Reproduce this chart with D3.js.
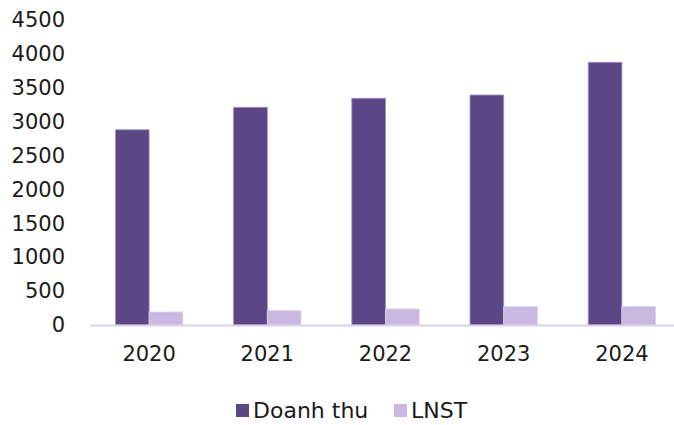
<!DOCTYPE html>
<html>
<head>
<meta charset="utf-8">
<script src="https://cdn.jsdelivr.net/npm/d3@7"></script>
<style>
  body { margin: 0; background: #fff; }
  svg { display: block; font-family: "DejaVu Sans", sans-serif; }
</style>
</head>
<body>
<svg id="chart" width="674" height="425"></svg>
<script>
// --- data ---
const years = ["2020", "2021", "2022", "2023", "2024"];
const doanhThu = [2880, 3212, 3345, 3393, 3876];
const lnst = [192, 211, 236, 270, 272];
const seriesNames = ["Doanh thu", "LNST"];
const yTicks = [0, 500, 1000, 1500, 2000, 2500, 3000, 3500, 4000, 4500];

const colors = { "Doanh thu": "#5c4786", "LNST": "#c9b8df" };

const svg = d3.select("#chart");

// plot area
const x0 = d3.scaleBand().domain(years).range([90, 681]).paddingInner(0.43).paddingOuter(0.215);
const x1 = d3.scaleBand().domain(seriesNames).range([0, x0.bandwidth()]);
const y = d3.scaleLinear().domain([0, 4500]).range([325, 20]);

const rows = years.map((yr, i) => ({ year: yr, vals: [
  { key: "Doanh thu", value: doanhThu[i] },
  { key: "LNST", value: lnst[i] }
]}));

// y tick labels (no axis line)
svg.append("g")
  .attr("transform", "translate(65,0)")
  .call(d3.axisLeft(y).tickValues(yTicks).tickFormat(d3.format("d")).tickSize(0).tickPadding(0))
  .call(g => g.select(".domain").remove())
  .selectAll("text")
    .attr("font-size", 21)
    .attr("fill", "#1a1a1a")
    .style("font-family", "DejaVu Sans, sans-serif");

// bars
const groups = svg.append("g").selectAll("g")
  .data(rows).join("g")
  .attr("transform", d => `translate(${x0(d.year)},0)`);

groups.selectAll("rect")
  .data(d => d.vals).join("rect")
  .attr("x", d => x1(d.key))
  .attr("y", d => y(d.value))
  .attr("width", x1.bandwidth())
  .attr("height", d => y(0) - y(d.value))
  .attr("fill", d => colors[d.key])
  .attr("stroke", d => d.key === "Doanh thu" ? "#9f8fc4" : "#ddd2ee")
  .attr("stroke-width", 0.8);

// baseline
svg.append("line")
  .attr("x1", 90).attr("x2", 674)
  .attr("y1", y(0) + 0.5).attr("y2", y(0) + 0.5)
  .attr("stroke", "#d9d0ea")
  .attr("stroke-width", 2);

// x labels
svg.append("g")
  .attr("transform", `translate(0,${y(0)})`)
  .call(d3.axisBottom(x0).tickSize(0).tickPadding(21))
  .call(g => g.select(".domain").remove())
  .selectAll("text")
    .attr("font-size", 21)
    .attr("fill", "#1a1a1a")
    .style("font-family", "DejaVu Sans, sans-serif");

// legend
const legend = svg.append("g").attr("transform", "translate(236,404)");
const items = [{ name: "Doanh thu", x: 0 }, { name: "LNST", x: 158 }];
const li = legend.selectAll("g").data(items).join("g")
  .attr("transform", d => `translate(${d.x},0)`);
li.append("rect")
  .attr("width", 13).attr("height", 13)
  .attr("fill", d => colors[d.name]);
li.append("text")
  .attr("x", 17).attr("y", 14)
  .attr("font-size", 22)
  .attr("fill", "#1a1a1a")
  .text(d => d.name);
</script>
</body>
</html>
